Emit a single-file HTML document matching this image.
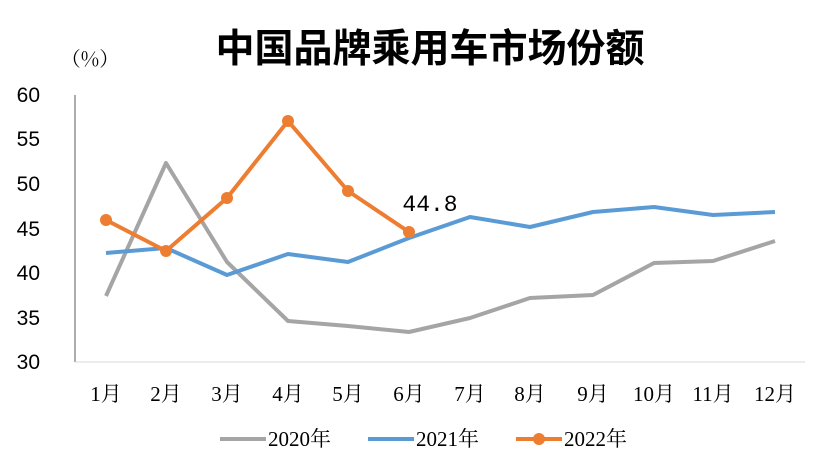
<!DOCTYPE html>
<html><head><meta charset="utf-8"><style>
body{margin:0;background:#fff;}
svg{display:block;}
</style></head><body>
<svg width="820" height="475" xmlns="http://www.w3.org/2000/svg" font-family="'Liberation Serif','Noto Serif CJK SC',serif">
<text x="430" y="62" text-anchor="middle" font-family="'Liberation Sans','Noto Sans CJK SC',sans-serif" font-weight="bold" font-size="39" fill="#000">中国品牌乘用车市场份额</text>
<text x="90" y="66" text-anchor="middle" font-family="'Noto Serif CJK SC',serif" font-size="20" fill="#000">（%）</text>
<line x1="75" y1="95" x2="75" y2="362" stroke="#595959" stroke-width="1"/>
<line x1="75" y1="362" x2="805" y2="362" stroke="#d9d9d9" stroke-width="1"/>
<g font-size="21" fill="#000" text-anchor="end" font-family="'Liberation Sans',sans-serif">
<text x="40" y="102">60</text><text x="40" y="146">55</text><text x="40" y="191">50</text>
<text x="40" y="236">45</text><text x="40" y="280">40</text><text x="40" y="325">35</text><text x="40" y="369">30</text>
</g>
<g font-size="21" fill="#000" text-anchor="middle">
<text x="106" y="401">1月</text><text x="166" y="401">2月</text><text x="227" y="401">3月</text>
<text x="288" y="401">4月</text><text x="348" y="401">5月</text><text x="409" y="401">6月</text>
<text x="470" y="401">7月</text><text x="530" y="401">8月</text><text x="593" y="401">9月</text>
<text x="654" y="401">10月</text><text x="713" y="401">11月</text><text x="775" y="401">12月</text>
</g>
<polyline fill="none" stroke="#a5a5a5" stroke-width="4" stroke-linejoin="round" points="106,296 166,163 227,262 288,321 348,326 409,332 470,318 530,298 593,295 654,263 713,261 775,241"/>
<polyline fill="none" stroke="#5b9bd5" stroke-width="4" stroke-linejoin="round" points="106,253 166,248 227,275 288,254 348,262 409,238 470,217 530,227 593,212 654,207 713,215 775,212"/>
<polyline fill="none" stroke="#ed7d31" stroke-width="4" stroke-linejoin="round" points="106,220 166,251 227,198 288,121 348,191 409,232"/>
<g fill="#ed7d31">
<circle cx="106" cy="220" r="6"/><circle cx="166" cy="251" r="6"/><circle cx="227" cy="198" r="6"/>
<circle cx="288" cy="121" r="6"/><circle cx="348" cy="191" r="6"/><circle cx="409" cy="232" r="6"/>
</g>
<text x="430" y="211" text-anchor="middle" font-family="'Liberation Mono',monospace" font-size="23" fill="#000">44.8</text>
<g font-size="21" fill="#000">
<line x1="220" y1="439" x2="266" y2="439" stroke="#a5a5a5" stroke-width="4"/>
<text x="268" y="446">2020年</text>
<line x1="368" y1="439" x2="414" y2="439" stroke="#5b9bd5" stroke-width="4"/>
<text x="416" y="446">2021年</text>
<line x1="516" y1="439" x2="562" y2="439" stroke="#ed7d31" stroke-width="4"/>
<circle cx="539" cy="439" r="6" fill="#ed7d31"/>
<text x="564" y="446">2022年</text>
</g>
</svg>
</body></html>
